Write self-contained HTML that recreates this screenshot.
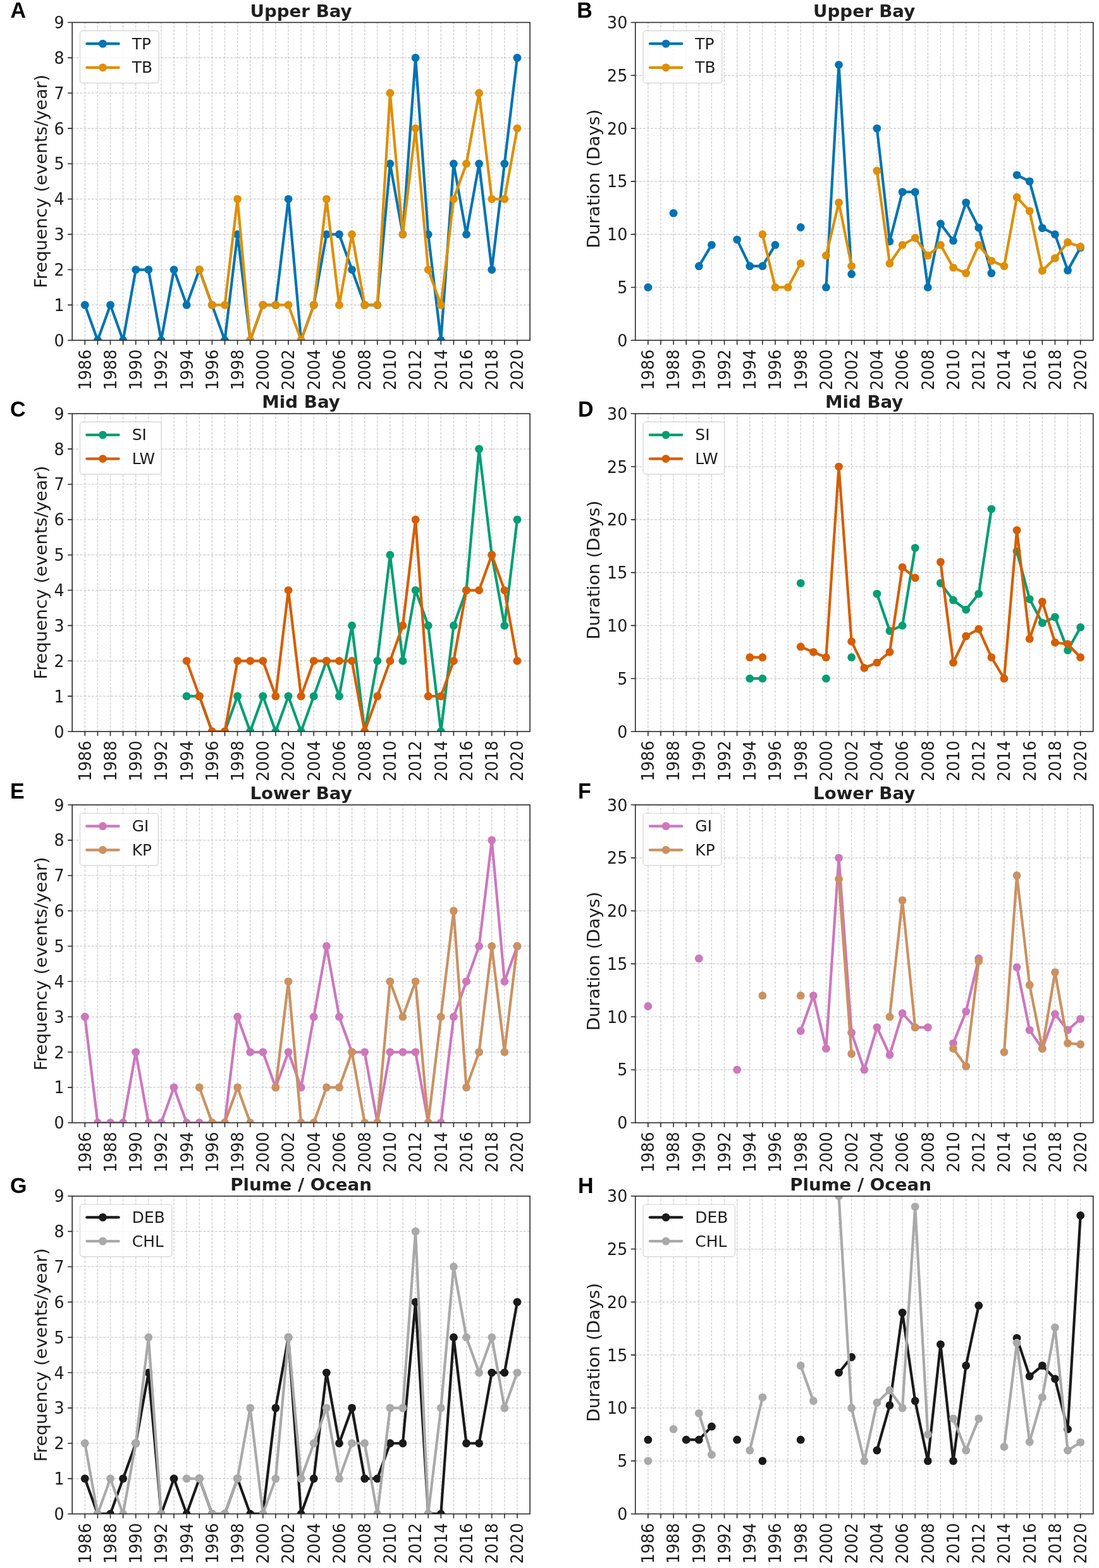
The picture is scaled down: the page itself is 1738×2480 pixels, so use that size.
<!DOCTYPE html>
<html lang="en"><head><meta charset="utf-8"><title>Event frequency and duration by region</title>
<style>html,body{margin:0;padding:0;background:#fff}svg{display:block}text{font-family:'DejaVu Sans','Liberation Sans',sans-serif}.tk{font-size:25.3px;fill:#1c1c1c}.yt{text-anchor:end}.xt{text-anchor:end}.ti{font-size:27.7px;font-weight:bold;fill:#1f1f1f;text-anchor:middle}.yl{font-size:27.7px;fill:#1c1c1c;text-anchor:middle}.lg{font-size:24.9px;fill:#1c1c1c}.pl{font-family:'Liberation Sans','DejaVu Sans',sans-serif;font-size:34px;font-weight:bold;fill:#000}.g{stroke:#cacaca;stroke-width:1.2;stroke-dasharray:3.9 2.2;fill:none}.sp{stroke:#2a2a2a;stroke-width:1.6;fill:none;stroke-linecap:square}.t{stroke:#2a2a2a;stroke-width:1.6;fill:none;stroke-linecap:round}.l{fill:none;stroke-width:4.2;stroke-linejoin:round;stroke-linecap:round}</style></head><body>
<svg width="1738" height="2480" viewBox="0 0 1738 2480">
<rect width="1738" height="2480" fill="#fff"/>
<defs>
<clipPath id="c00"><rect x="114.2" y="35.5" width="723.86" height="502.75"/></clipPath>
<clipPath id="c01"><rect x="1004.74" y="35.5" width="724.04" height="502.75"/></clipPath>
<clipPath id="c10"><rect x="114.2" y="654.27" width="723.86" height="502.73"/></clipPath>
<clipPath id="c11"><rect x="1004.74" y="654.27" width="724.04" height="502.73"/></clipPath>
<clipPath id="c20"><rect x="114.2" y="1273.04" width="723.86" height="502.71"/></clipPath>
<clipPath id="c21"><rect x="1004.74" y="1273.04" width="724.04" height="502.71"/></clipPath>
<clipPath id="c30"><rect x="114.2" y="1891.8" width="723.86" height="502.65"/></clipPath>
<clipPath id="c31"><rect x="1004.74" y="1891.8" width="724.04" height="502.65"/></clipPath>
</defs>
<g id="panel-A">
<path class="g" d="M134.31 538.25V35.5M154.41 538.25V35.5M174.52 538.25V35.5M194.63 538.25V35.5M214.74 538.25V35.5M234.84 538.25V35.5M254.95 538.25V35.5M275.06 538.25V35.5M295.16 538.25V35.5M315.27 538.25V35.5M335.38 538.25V35.5M355.49 538.25V35.5M375.59 538.25V35.5M395.7 538.25V35.5M415.81 538.25V35.5M435.92 538.25V35.5M456.02 538.25V35.5M476.13 538.25V35.5M496.24 538.25V35.5M516.34 538.25V35.5M536.45 538.25V35.5M556.56 538.25V35.5M576.67 538.25V35.5M596.77 538.25V35.5M616.88 538.25V35.5M636.99 538.25V35.5M657.1 538.25V35.5M677.2 538.25V35.5M697.31 538.25V35.5M717.42 538.25V35.5M737.52 538.25V35.5M757.63 538.25V35.5M777.74 538.25V35.5M797.85 538.25V35.5M817.95 538.25V35.5M114.2 482.39H838.06M114.2 426.53H838.06M114.2 370.67H838.06M114.2 314.81H838.06M114.2 258.94H838.06M114.2 203.08H838.06M114.2 147.22H838.06M114.2 91.36H838.06"/>
<g clip-path="url(#c00)">
<g stroke="#0173b2" fill="#0173b2">
<path class="l" d="M134.31 482.39L154.41 538.25L174.52 482.39L194.63 538.25L214.74 426.53L234.84 426.53L254.95 538.25L275.06 426.53L295.16 482.39L315.27 426.53L335.38 482.39L355.49 538.25L375.59 370.67L395.7 538.25L415.81 482.39L435.92 482.39L456.02 314.81L476.13 538.25L496.24 482.39L516.34 370.67L536.45 370.67L556.56 426.53L576.67 482.39L596.77 482.39L616.88 258.94L636.99 370.67L657.1 91.36L677.2 370.67L697.31 538.25L717.42 258.94L737.52 370.67L757.63 258.94L777.74 426.53L797.85 258.94L817.95 91.36"/>
<g stroke="none"><circle cx="134.31" cy="482.39" r="6.4"/><circle cx="154.41" cy="538.25" r="6.4"/><circle cx="174.52" cy="482.39" r="6.4"/><circle cx="194.63" cy="538.25" r="6.4"/><circle cx="214.74" cy="426.53" r="6.4"/><circle cx="234.84" cy="426.53" r="6.4"/><circle cx="254.95" cy="538.25" r="6.4"/><circle cx="275.06" cy="426.53" r="6.4"/><circle cx="295.16" cy="482.39" r="6.4"/><circle cx="315.27" cy="426.53" r="6.4"/><circle cx="335.38" cy="482.39" r="6.4"/><circle cx="355.49" cy="538.25" r="6.4"/><circle cx="375.59" cy="370.67" r="6.4"/><circle cx="395.7" cy="538.25" r="6.4"/><circle cx="415.81" cy="482.39" r="6.4"/><circle cx="435.92" cy="482.39" r="6.4"/><circle cx="456.02" cy="314.81" r="6.4"/><circle cx="476.13" cy="538.25" r="6.4"/><circle cx="496.24" cy="482.39" r="6.4"/><circle cx="516.34" cy="370.67" r="6.4"/><circle cx="536.45" cy="370.67" r="6.4"/><circle cx="556.56" cy="426.53" r="6.4"/><circle cx="576.67" cy="482.39" r="6.4"/><circle cx="596.77" cy="482.39" r="6.4"/><circle cx="616.88" cy="258.94" r="6.4"/><circle cx="636.99" cy="370.67" r="6.4"/><circle cx="657.1" cy="91.36" r="6.4"/><circle cx="677.2" cy="370.67" r="6.4"/><circle cx="697.31" cy="538.25" r="6.4"/><circle cx="717.42" cy="258.94" r="6.4"/><circle cx="737.52" cy="370.67" r="6.4"/><circle cx="757.63" cy="258.94" r="6.4"/><circle cx="777.74" cy="426.53" r="6.4"/><circle cx="797.85" cy="258.94" r="6.4"/><circle cx="817.95" cy="91.36" r="6.4"/></g>
</g>
<g stroke="#de8f05" fill="#de8f05">
<path class="l" d="M315.27 426.53L335.38 482.39L355.49 482.39L375.59 314.81L395.7 538.25L415.81 482.39L435.92 482.39L456.02 482.39L476.13 538.25L496.24 482.39L516.34 314.81L536.45 482.39L556.56 370.67L576.67 482.39L596.77 482.39L616.88 147.22L636.99 370.67L657.1 203.08L677.2 426.53L697.31 482.39L717.42 314.81L737.52 258.94L757.63 147.22L777.74 314.81L797.85 314.81L817.95 203.08"/>
<g stroke="none"><circle cx="315.27" cy="426.53" r="6.4"/><circle cx="335.38" cy="482.39" r="6.4"/><circle cx="355.49" cy="482.39" r="6.4"/><circle cx="375.59" cy="314.81" r="6.4"/><circle cx="395.7" cy="538.25" r="6.4"/><circle cx="415.81" cy="482.39" r="6.4"/><circle cx="435.92" cy="482.39" r="6.4"/><circle cx="456.02" cy="482.39" r="6.4"/><circle cx="476.13" cy="538.25" r="6.4"/><circle cx="496.24" cy="482.39" r="6.4"/><circle cx="516.34" cy="314.81" r="6.4"/><circle cx="536.45" cy="482.39" r="6.4"/><circle cx="556.56" cy="370.67" r="6.4"/><circle cx="576.67" cy="482.39" r="6.4"/><circle cx="596.77" cy="482.39" r="6.4"/><circle cx="616.88" cy="147.22" r="6.4"/><circle cx="636.99" cy="370.67" r="6.4"/><circle cx="657.1" cy="203.08" r="6.4"/><circle cx="677.2" cy="426.53" r="6.4"/><circle cx="697.31" cy="482.39" r="6.4"/><circle cx="717.42" cy="314.81" r="6.4"/><circle cx="737.52" cy="258.94" r="6.4"/><circle cx="757.63" cy="147.22" r="6.4"/><circle cx="777.74" cy="314.81" r="6.4"/><circle cx="797.85" cy="314.81" r="6.4"/><circle cx="817.95" cy="203.08" r="6.4"/></g>
</g>
</g>
<path class="t" d="M134.31 538.25v6.4M154.41 538.25v6.4M174.52 538.25v6.4M194.63 538.25v6.4M214.74 538.25v6.4M234.84 538.25v6.4M254.95 538.25v6.4M275.06 538.25v6.4M295.16 538.25v6.4M315.27 538.25v6.4M335.38 538.25v6.4M355.49 538.25v6.4M375.59 538.25v6.4M395.7 538.25v6.4M415.81 538.25v6.4M435.92 538.25v6.4M456.02 538.25v6.4M476.13 538.25v6.4M496.24 538.25v6.4M516.34 538.25v6.4M536.45 538.25v6.4M556.56 538.25v6.4M576.67 538.25v6.4M596.77 538.25v6.4M616.88 538.25v6.4M636.99 538.25v6.4M657.1 538.25v6.4M677.2 538.25v6.4M697.31 538.25v6.4M717.42 538.25v6.4M737.52 538.25v6.4M757.63 538.25v6.4M777.74 538.25v6.4M797.85 538.25v6.4M817.95 538.25v6.4M114.2 538.25h-6.4M114.2 482.39h-6.4M114.2 426.53h-6.4M114.2 370.67h-6.4M114.2 314.81h-6.4M114.2 258.94h-6.4M114.2 203.08h-6.4M114.2 147.22h-6.4M114.2 91.36h-6.4M114.2 35.5h-6.4"/>
<rect class="sp" x="114.2" y="35.5" width="723.86" height="502.75"/>
<text class="tk yt" transform="translate(101.7 547.75) scale(1 1.02)">0</text>
<text class="tk yt" transform="translate(101.7 491.89) scale(1 1.02)">1</text>
<text class="tk yt" transform="translate(101.7 436.03) scale(1 1.02)">2</text>
<text class="tk yt" transform="translate(101.7 380.17) scale(1 1.02)">3</text>
<text class="tk yt" transform="translate(101.7 324.31) scale(1 1.02)">4</text>
<text class="tk yt" transform="translate(101.7 268.44) scale(1 1.02)">5</text>
<text class="tk yt" transform="translate(101.7 212.58) scale(1 1.02)">6</text>
<text class="tk yt" transform="translate(101.7 156.72) scale(1 1.02)">7</text>
<text class="tk yt" transform="translate(101.7 100.86) scale(1 1.02)">8</text>
<text class="tk yt" transform="translate(101.7 45) scale(1 1.02)">9</text>
<text class="tk xt" transform="translate(143.66 552.75) rotate(-90) scale(1 1.02)">1986</text>
<text class="tk xt" transform="translate(183.87 552.75) rotate(-90) scale(1 1.02)">1988</text>
<text class="tk xt" transform="translate(224.09 552.75) rotate(-90) scale(1 1.02)">1990</text>
<text class="tk xt" transform="translate(264.3 552.75) rotate(-90) scale(1 1.02)">1992</text>
<text class="tk xt" transform="translate(304.51 552.75) rotate(-90) scale(1 1.02)">1994</text>
<text class="tk xt" transform="translate(344.73 552.75) rotate(-90) scale(1 1.02)">1996</text>
<text class="tk xt" transform="translate(384.94 552.75) rotate(-90) scale(1 1.02)">1998</text>
<text class="tk xt" transform="translate(425.16 552.75) rotate(-90) scale(1 1.02)">2000</text>
<text class="tk xt" transform="translate(465.37 552.75) rotate(-90) scale(1 1.02)">2002</text>
<text class="tk xt" transform="translate(505.59 552.75) rotate(-90) scale(1 1.02)">2004</text>
<text class="tk xt" transform="translate(545.8 552.75) rotate(-90) scale(1 1.02)">2006</text>
<text class="tk xt" transform="translate(586.02 552.75) rotate(-90) scale(1 1.02)">2008</text>
<text class="tk xt" transform="translate(626.23 552.75) rotate(-90) scale(1 1.02)">2010</text>
<text class="tk xt" transform="translate(666.45 552.75) rotate(-90) scale(1 1.02)">2012</text>
<text class="tk xt" transform="translate(706.66 552.75) rotate(-90) scale(1 1.02)">2014</text>
<text class="tk xt" transform="translate(746.87 552.75) rotate(-90) scale(1 1.02)">2016</text>
<text class="tk xt" transform="translate(787.09 552.75) rotate(-90) scale(1 1.02)">2018</text>
<text class="tk xt" transform="translate(827.3 552.75) rotate(-90) scale(1 1.02)">2020</text>
<text class="yl" transform="translate(74.2 286.88) rotate(-90) scale(1 0.985)">Frequency (events/year)</text>
<text class="ti" transform="translate(476.03 26.6) scale(1 0.975)">Upper Bay</text>
<rect x="126.5" y="48.7" width="124.8" height="82.6" rx="4.5" fill="#fff" fill-opacity="0.8" stroke="#d2d2d2" stroke-width="1.2"/>
<path class="l" stroke="#0173b2" d="M137.3 69.1h50.4"/>
<circle cx="162.5" cy="69.1" r="6.4" fill="#0173b2"/>
<text class="lg" transform="translate(208.8 77.6) scale(1 1)">TP</text>
<path class="l" stroke="#de8f05" d="M137.3 106.8h50.4"/>
<circle cx="162.5" cy="106.8" r="6.4" fill="#de8f05"/>
<text class="lg" transform="translate(208.8 115.3) scale(1 1)">TB</text>
<text class="pl" transform="translate(16.45 27.8) scale(1 1.03)">A</text>
</g>
<g id="panel-B">
<path class="g" d="M1024.85 538.25V35.5M1044.96 538.25V35.5M1065.08 538.25V35.5M1085.19 538.25V35.5M1105.3 538.25V35.5M1125.41 538.25V35.5M1145.53 538.25V35.5M1165.64 538.25V35.5M1185.75 538.25V35.5M1205.86 538.25V35.5M1225.97 538.25V35.5M1246.09 538.25V35.5M1266.2 538.25V35.5M1286.31 538.25V35.5M1306.42 538.25V35.5M1326.54 538.25V35.5M1346.65 538.25V35.5M1366.76 538.25V35.5M1386.87 538.25V35.5M1406.98 538.25V35.5M1427.1 538.25V35.5M1447.21 538.25V35.5M1467.32 538.25V35.5M1487.43 538.25V35.5M1507.55 538.25V35.5M1527.66 538.25V35.5M1547.77 538.25V35.5M1567.88 538.25V35.5M1587.99 538.25V35.5M1608.11 538.25V35.5M1628.22 538.25V35.5M1648.33 538.25V35.5M1668.44 538.25V35.5M1688.56 538.25V35.5M1708.67 538.25V35.5M1004.74 454.46H1728.78M1004.74 370.67H1728.78M1004.74 286.88H1728.78M1004.74 203.08H1728.78M1004.74 119.29H1728.78"/>
<g clip-path="url(#c01)">
<g stroke="#0173b2" fill="#0173b2">
<path class="l" d="M1105.3 420.94L1125.41 387.43M1165.64 379.05L1185.75 420.94L1205.86 420.94L1225.97 387.43M1306.42 454.46L1326.54 102.53L1346.65 433.51M1386.87 203.08L1406.98 381.84L1427.1 303.63L1447.21 303.63L1467.32 454.46L1487.43 353.91L1507.55 380.72L1527.66 320.39L1547.77 360.19L1567.88 432.12M1608.11 276.82L1628.22 286.88L1648.33 360.61L1668.44 370.67L1688.56 427.64L1708.67 391.61"/>
<g stroke="none"><circle cx="1024.85" cy="454.46" r="6.4"/><circle cx="1065.08" cy="337.15" r="6.4"/><circle cx="1105.3" cy="420.94" r="6.4"/><circle cx="1125.41" cy="387.43" r="6.4"/><circle cx="1165.64" cy="379.05" r="6.4"/><circle cx="1185.75" cy="420.94" r="6.4"/><circle cx="1205.86" cy="420.94" r="6.4"/><circle cx="1225.97" cy="387.43" r="6.4"/><circle cx="1266.2" cy="359.49" r="6.4"/><circle cx="1306.42" cy="454.46" r="6.4"/><circle cx="1326.54" cy="102.53" r="6.4"/><circle cx="1346.65" cy="433.51" r="6.4"/><circle cx="1386.87" cy="203.08" r="6.4"/><circle cx="1406.98" cy="381.84" r="6.4"/><circle cx="1427.1" cy="303.63" r="6.4"/><circle cx="1447.21" cy="303.63" r="6.4"/><circle cx="1467.32" cy="454.46" r="6.4"/><circle cx="1487.43" cy="353.91" r="6.4"/><circle cx="1507.55" cy="380.72" r="6.4"/><circle cx="1527.66" cy="320.39" r="6.4"/><circle cx="1547.77" cy="360.19" r="6.4"/><circle cx="1567.88" cy="432.12" r="6.4"/><circle cx="1608.11" cy="276.82" r="6.4"/><circle cx="1628.22" cy="286.88" r="6.4"/><circle cx="1648.33" cy="360.61" r="6.4"/><circle cx="1668.44" cy="370.67" r="6.4"/><circle cx="1688.56" cy="427.64" r="6.4"/><circle cx="1708.67" cy="391.61" r="6.4"/></g>
</g>
<g stroke="#de8f05" fill="#de8f05">
<path class="l" d="M1205.86 370.67L1225.97 454.46L1246.09 454.46L1266.2 416.75M1306.42 404.18L1326.54 320.39L1346.65 420.94M1386.87 270.12L1406.98 416.75L1427.1 387.43L1447.21 376.25L1467.32 404.18L1487.43 387.43L1507.55 423.34L1527.66 432.12L1547.77 387.43L1567.88 412.56L1587.99 420.94L1608.11 312.01L1628.22 333.8L1648.33 428.13L1668.44 408.37L1688.56 383.24L1708.67 390.22"/>
<g stroke="none"><circle cx="1205.86" cy="370.67" r="6.4"/><circle cx="1225.97" cy="454.46" r="6.4"/><circle cx="1246.09" cy="454.46" r="6.4"/><circle cx="1266.2" cy="416.75" r="6.4"/><circle cx="1306.42" cy="404.18" r="6.4"/><circle cx="1326.54" cy="320.39" r="6.4"/><circle cx="1346.65" cy="420.94" r="6.4"/><circle cx="1386.87" cy="270.12" r="6.4"/><circle cx="1406.98" cy="416.75" r="6.4"/><circle cx="1427.1" cy="387.43" r="6.4"/><circle cx="1447.21" cy="376.25" r="6.4"/><circle cx="1467.32" cy="404.18" r="6.4"/><circle cx="1487.43" cy="387.43" r="6.4"/><circle cx="1507.55" cy="423.34" r="6.4"/><circle cx="1527.66" cy="432.12" r="6.4"/><circle cx="1547.77" cy="387.43" r="6.4"/><circle cx="1567.88" cy="412.56" r="6.4"/><circle cx="1587.99" cy="420.94" r="6.4"/><circle cx="1608.11" cy="312.01" r="6.4"/><circle cx="1628.22" cy="333.8" r="6.4"/><circle cx="1648.33" cy="428.13" r="6.4"/><circle cx="1668.44" cy="408.37" r="6.4"/><circle cx="1688.56" cy="383.24" r="6.4"/><circle cx="1708.67" cy="390.22" r="6.4"/></g>
</g>
</g>
<path class="t" d="M1024.85 538.25v6.4M1044.96 538.25v6.4M1065.08 538.25v6.4M1085.19 538.25v6.4M1105.3 538.25v6.4M1125.41 538.25v6.4M1145.53 538.25v6.4M1165.64 538.25v6.4M1185.75 538.25v6.4M1205.86 538.25v6.4M1225.97 538.25v6.4M1246.09 538.25v6.4M1266.2 538.25v6.4M1286.31 538.25v6.4M1306.42 538.25v6.4M1326.54 538.25v6.4M1346.65 538.25v6.4M1366.76 538.25v6.4M1386.87 538.25v6.4M1406.98 538.25v6.4M1427.1 538.25v6.4M1447.21 538.25v6.4M1467.32 538.25v6.4M1487.43 538.25v6.4M1507.55 538.25v6.4M1527.66 538.25v6.4M1547.77 538.25v6.4M1567.88 538.25v6.4M1587.99 538.25v6.4M1608.11 538.25v6.4M1628.22 538.25v6.4M1648.33 538.25v6.4M1668.44 538.25v6.4M1688.56 538.25v6.4M1708.67 538.25v6.4M1004.74 538.25h-6.4M1004.74 454.46h-6.4M1004.74 370.67h-6.4M1004.74 286.88h-6.4M1004.74 203.08h-6.4M1004.74 119.29h-6.4M1004.74 35.5h-6.4"/>
<rect class="sp" x="1004.74" y="35.5" width="724.04" height="502.75"/>
<text class="tk yt" transform="translate(992.24 547.75) scale(1 1.02)">0</text>
<text class="tk yt" transform="translate(992.24 463.96) scale(1 1.02)">5</text>
<text class="tk yt" transform="translate(992.24 380.17) scale(1 1.02)">10</text>
<text class="tk yt" transform="translate(992.24 296.38) scale(1 1.02)">15</text>
<text class="tk yt" transform="translate(992.24 212.58) scale(1 1.02)">20</text>
<text class="tk yt" transform="translate(992.24 128.79) scale(1 1.02)">25</text>
<text class="tk yt" transform="translate(992.24 45) scale(1 1.02)">30</text>
<text class="tk xt" transform="translate(1034.2 552.75) rotate(-90) scale(1 1.02)">1986</text>
<text class="tk xt" transform="translate(1074.43 552.75) rotate(-90) scale(1 1.02)">1988</text>
<text class="tk xt" transform="translate(1114.65 552.75) rotate(-90) scale(1 1.02)">1990</text>
<text class="tk xt" transform="translate(1154.88 552.75) rotate(-90) scale(1 1.02)">1992</text>
<text class="tk xt" transform="translate(1195.1 552.75) rotate(-90) scale(1 1.02)">1994</text>
<text class="tk xt" transform="translate(1235.32 552.75) rotate(-90) scale(1 1.02)">1996</text>
<text class="tk xt" transform="translate(1275.55 552.75) rotate(-90) scale(1 1.02)">1998</text>
<text class="tk xt" transform="translate(1315.77 552.75) rotate(-90) scale(1 1.02)">2000</text>
<text class="tk xt" transform="translate(1356 552.75) rotate(-90) scale(1 1.02)">2002</text>
<text class="tk xt" transform="translate(1396.22 552.75) rotate(-90) scale(1 1.02)">2004</text>
<text class="tk xt" transform="translate(1436.45 552.75) rotate(-90) scale(1 1.02)">2006</text>
<text class="tk xt" transform="translate(1476.67 552.75) rotate(-90) scale(1 1.02)">2008</text>
<text class="tk xt" transform="translate(1516.9 552.75) rotate(-90) scale(1 1.02)">2010</text>
<text class="tk xt" transform="translate(1557.12 552.75) rotate(-90) scale(1 1.02)">2012</text>
<text class="tk xt" transform="translate(1597.34 552.75) rotate(-90) scale(1 1.02)">2014</text>
<text class="tk xt" transform="translate(1637.57 552.75) rotate(-90) scale(1 1.02)">2016</text>
<text class="tk xt" transform="translate(1677.79 552.75) rotate(-90) scale(1 1.02)">2018</text>
<text class="tk xt" transform="translate(1718.02 552.75) rotate(-90) scale(1 1.02)">2020</text>
<text class="yl" transform="translate(948.24 282.88) rotate(-90) scale(1 0.985)">Duration (Days)</text>
<text class="ti" transform="translate(1366.66 26.6) scale(1 0.975)">Upper Bay</text>
<rect x="1017.04" y="48.7" width="124.8" height="82.6" rx="4.5" fill="#fff" fill-opacity="0.8" stroke="#d2d2d2" stroke-width="1.2"/>
<path class="l" stroke="#0173b2" d="M1027.84 69.1h50.4"/>
<circle cx="1053.04" cy="69.1" r="6.4" fill="#0173b2"/>
<text class="lg" transform="translate(1099.34 77.6) scale(1 1)">TP</text>
<path class="l" stroke="#de8f05" d="M1027.84 106.8h50.4"/>
<circle cx="1053.04" cy="106.8" r="6.4" fill="#de8f05"/>
<text class="lg" transform="translate(1099.34 115.3) scale(1 1)">TB</text>
<text class="pl" transform="translate(912.2 27.9) scale(1 1.03)">B</text>
</g>
<g id="panel-C">
<path class="g" d="M134.31 1157V654.27M154.41 1157V654.27M174.52 1157V654.27M194.63 1157V654.27M214.74 1157V654.27M234.84 1157V654.27M254.95 1157V654.27M275.06 1157V654.27M295.16 1157V654.27M315.27 1157V654.27M335.38 1157V654.27M355.49 1157V654.27M375.59 1157V654.27M395.7 1157V654.27M415.81 1157V654.27M435.92 1157V654.27M456.02 1157V654.27M476.13 1157V654.27M496.24 1157V654.27M516.34 1157V654.27M536.45 1157V654.27M556.56 1157V654.27M576.67 1157V654.27M596.77 1157V654.27M616.88 1157V654.27M636.99 1157V654.27M657.1 1157V654.27M677.2 1157V654.27M697.31 1157V654.27M717.42 1157V654.27M737.52 1157V654.27M757.63 1157V654.27M777.74 1157V654.27M797.85 1157V654.27M817.95 1157V654.27M114.2 1101.14H838.06M114.2 1045.28H838.06M114.2 989.42H838.06M114.2 933.56H838.06M114.2 877.71H838.06M114.2 821.85H838.06M114.2 765.99H838.06M114.2 710.13H838.06"/>
<g clip-path="url(#c10)">
<g stroke="#029e73" fill="#029e73">
<path class="l" d="M295.16 1101.14L315.27 1101.14L335.38 1157L355.49 1157L375.59 1101.14L395.7 1157L415.81 1101.14L435.92 1157L456.02 1101.14L476.13 1157L496.24 1101.14L516.34 1045.28L536.45 1101.14L556.56 989.42L576.67 1157L596.77 1045.28L616.88 877.71L636.99 1045.28L657.1 933.56L677.2 989.42L697.31 1157L717.42 989.42L737.52 933.56L757.63 710.13L777.74 877.71L797.85 989.42L817.95 821.85"/>
<g stroke="none"><circle cx="295.16" cy="1101.14" r="6.4"/><circle cx="315.27" cy="1101.14" r="6.4"/><circle cx="335.38" cy="1157" r="6.4"/><circle cx="355.49" cy="1157" r="6.4"/><circle cx="375.59" cy="1101.14" r="6.4"/><circle cx="395.7" cy="1157" r="6.4"/><circle cx="415.81" cy="1101.14" r="6.4"/><circle cx="435.92" cy="1157" r="6.4"/><circle cx="456.02" cy="1101.14" r="6.4"/><circle cx="476.13" cy="1157" r="6.4"/><circle cx="496.24" cy="1101.14" r="6.4"/><circle cx="516.34" cy="1045.28" r="6.4"/><circle cx="536.45" cy="1101.14" r="6.4"/><circle cx="556.56" cy="989.42" r="6.4"/><circle cx="576.67" cy="1157" r="6.4"/><circle cx="596.77" cy="1045.28" r="6.4"/><circle cx="616.88" cy="877.71" r="6.4"/><circle cx="636.99" cy="1045.28" r="6.4"/><circle cx="657.1" cy="933.56" r="6.4"/><circle cx="677.2" cy="989.42" r="6.4"/><circle cx="697.31" cy="1157" r="6.4"/><circle cx="717.42" cy="989.42" r="6.4"/><circle cx="737.52" cy="933.56" r="6.4"/><circle cx="757.63" cy="710.13" r="6.4"/><circle cx="777.74" cy="877.71" r="6.4"/><circle cx="797.85" cy="989.42" r="6.4"/><circle cx="817.95" cy="821.85" r="6.4"/></g>
</g>
<g stroke="#d55e00" fill="#d55e00">
<path class="l" d="M295.16 1045.28L315.27 1101.14L335.38 1157L355.49 1157L375.59 1045.28L395.7 1045.28L415.81 1045.28L435.92 1101.14L456.02 933.56L476.13 1101.14L496.24 1045.28L516.34 1045.28L536.45 1045.28L556.56 1045.28L576.67 1157L596.77 1101.14L616.88 1045.28L636.99 989.42L657.1 821.85L677.2 1101.14L697.31 1101.14L717.42 1045.28L737.52 933.56L757.63 933.56L777.74 877.71L797.85 933.56L817.95 1045.28"/>
<g stroke="none"><circle cx="295.16" cy="1045.28" r="6.4"/><circle cx="315.27" cy="1101.14" r="6.4"/><circle cx="335.38" cy="1157" r="6.4"/><circle cx="355.49" cy="1157" r="6.4"/><circle cx="375.59" cy="1045.28" r="6.4"/><circle cx="395.7" cy="1045.28" r="6.4"/><circle cx="415.81" cy="1045.28" r="6.4"/><circle cx="435.92" cy="1101.14" r="6.4"/><circle cx="456.02" cy="933.56" r="6.4"/><circle cx="476.13" cy="1101.14" r="6.4"/><circle cx="496.24" cy="1045.28" r="6.4"/><circle cx="516.34" cy="1045.28" r="6.4"/><circle cx="536.45" cy="1045.28" r="6.4"/><circle cx="556.56" cy="1045.28" r="6.4"/><circle cx="576.67" cy="1157" r="6.4"/><circle cx="596.77" cy="1101.14" r="6.4"/><circle cx="616.88" cy="1045.28" r="6.4"/><circle cx="636.99" cy="989.42" r="6.4"/><circle cx="657.1" cy="821.85" r="6.4"/><circle cx="677.2" cy="1101.14" r="6.4"/><circle cx="697.31" cy="1101.14" r="6.4"/><circle cx="717.42" cy="1045.28" r="6.4"/><circle cx="737.52" cy="933.56" r="6.4"/><circle cx="757.63" cy="933.56" r="6.4"/><circle cx="777.74" cy="877.71" r="6.4"/><circle cx="797.85" cy="933.56" r="6.4"/><circle cx="817.95" cy="1045.28" r="6.4"/></g>
</g>
</g>
<path class="t" d="M134.31 1157v6.4M154.41 1157v6.4M174.52 1157v6.4M194.63 1157v6.4M214.74 1157v6.4M234.84 1157v6.4M254.95 1157v6.4M275.06 1157v6.4M295.16 1157v6.4M315.27 1157v6.4M335.38 1157v6.4M355.49 1157v6.4M375.59 1157v6.4M395.7 1157v6.4M415.81 1157v6.4M435.92 1157v6.4M456.02 1157v6.4M476.13 1157v6.4M496.24 1157v6.4M516.34 1157v6.4M536.45 1157v6.4M556.56 1157v6.4M576.67 1157v6.4M596.77 1157v6.4M616.88 1157v6.4M636.99 1157v6.4M657.1 1157v6.4M677.2 1157v6.4M697.31 1157v6.4M717.42 1157v6.4M737.52 1157v6.4M757.63 1157v6.4M777.74 1157v6.4M797.85 1157v6.4M817.95 1157v6.4M114.2 1157h-6.4M114.2 1101.14h-6.4M114.2 1045.28h-6.4M114.2 989.42h-6.4M114.2 933.56h-6.4M114.2 877.71h-6.4M114.2 821.85h-6.4M114.2 765.99h-6.4M114.2 710.13h-6.4M114.2 654.27h-6.4"/>
<rect class="sp" x="114.2" y="654.27" width="723.86" height="502.73"/>
<text class="tk yt" transform="translate(101.7 1166.5) scale(1 1.02)">0</text>
<text class="tk yt" transform="translate(101.7 1110.64) scale(1 1.02)">1</text>
<text class="tk yt" transform="translate(101.7 1054.78) scale(1 1.02)">2</text>
<text class="tk yt" transform="translate(101.7 998.92) scale(1 1.02)">3</text>
<text class="tk yt" transform="translate(101.7 943.06) scale(1 1.02)">4</text>
<text class="tk yt" transform="translate(101.7 887.21) scale(1 1.02)">5</text>
<text class="tk yt" transform="translate(101.7 831.35) scale(1 1.02)">6</text>
<text class="tk yt" transform="translate(101.7 775.49) scale(1 1.02)">7</text>
<text class="tk yt" transform="translate(101.7 719.63) scale(1 1.02)">8</text>
<text class="tk yt" transform="translate(101.7 663.77) scale(1 1.02)">9</text>
<text class="tk xt" transform="translate(143.66 1171.5) rotate(-90) scale(1 1.02)">1986</text>
<text class="tk xt" transform="translate(183.87 1171.5) rotate(-90) scale(1 1.02)">1988</text>
<text class="tk xt" transform="translate(224.09 1171.5) rotate(-90) scale(1 1.02)">1990</text>
<text class="tk xt" transform="translate(264.3 1171.5) rotate(-90) scale(1 1.02)">1992</text>
<text class="tk xt" transform="translate(304.51 1171.5) rotate(-90) scale(1 1.02)">1994</text>
<text class="tk xt" transform="translate(344.73 1171.5) rotate(-90) scale(1 1.02)">1996</text>
<text class="tk xt" transform="translate(384.94 1171.5) rotate(-90) scale(1 1.02)">1998</text>
<text class="tk xt" transform="translate(425.16 1171.5) rotate(-90) scale(1 1.02)">2000</text>
<text class="tk xt" transform="translate(465.37 1171.5) rotate(-90) scale(1 1.02)">2002</text>
<text class="tk xt" transform="translate(505.59 1171.5) rotate(-90) scale(1 1.02)">2004</text>
<text class="tk xt" transform="translate(545.8 1171.5) rotate(-90) scale(1 1.02)">2006</text>
<text class="tk xt" transform="translate(586.02 1171.5) rotate(-90) scale(1 1.02)">2008</text>
<text class="tk xt" transform="translate(626.23 1171.5) rotate(-90) scale(1 1.02)">2010</text>
<text class="tk xt" transform="translate(666.45 1171.5) rotate(-90) scale(1 1.02)">2012</text>
<text class="tk xt" transform="translate(706.66 1171.5) rotate(-90) scale(1 1.02)">2014</text>
<text class="tk xt" transform="translate(746.87 1171.5) rotate(-90) scale(1 1.02)">2016</text>
<text class="tk xt" transform="translate(787.09 1171.5) rotate(-90) scale(1 1.02)">2018</text>
<text class="tk xt" transform="translate(827.3 1171.5) rotate(-90) scale(1 1.02)">2020</text>
<text class="yl" transform="translate(74.2 905.63) rotate(-90) scale(1 0.985)">Frequency (events/year)</text>
<text class="ti" transform="translate(476.03 645.37) scale(1 0.975)">Mid Bay</text>
<rect x="126.5" y="667.47" width="128.8" height="82.6" rx="4.5" fill="#fff" fill-opacity="0.8" stroke="#d2d2d2" stroke-width="1.2"/>
<path class="l" stroke="#029e73" d="M137.3 687.87h50.4"/>
<circle cx="162.5" cy="687.87" r="6.4" fill="#029e73"/>
<text class="lg" transform="translate(208.8 696.37) scale(1 1)">SI</text>
<path class="l" stroke="#d55e00" d="M137.3 725.57h50.4"/>
<circle cx="162.5" cy="725.57" r="6.4" fill="#d55e00"/>
<text class="lg" transform="translate(208.8 734.07) scale(1 1)">LW</text>
<text class="pl" transform="translate(15.9 658.8) scale(1 1.03)">C</text>
</g>
<g id="panel-D">
<path class="g" d="M1024.85 1157V654.27M1044.96 1157V654.27M1065.08 1157V654.27M1085.19 1157V654.27M1105.3 1157V654.27M1125.41 1157V654.27M1145.53 1157V654.27M1165.64 1157V654.27M1185.75 1157V654.27M1205.86 1157V654.27M1225.97 1157V654.27M1246.09 1157V654.27M1266.2 1157V654.27M1286.31 1157V654.27M1306.42 1157V654.27M1326.54 1157V654.27M1346.65 1157V654.27M1366.76 1157V654.27M1386.87 1157V654.27M1406.98 1157V654.27M1427.1 1157V654.27M1447.21 1157V654.27M1467.32 1157V654.27M1487.43 1157V654.27M1507.55 1157V654.27M1527.66 1157V654.27M1547.77 1157V654.27M1567.88 1157V654.27M1587.99 1157V654.27M1608.11 1157V654.27M1628.22 1157V654.27M1648.33 1157V654.27M1668.44 1157V654.27M1688.56 1157V654.27M1708.67 1157V654.27M1004.74 1073.21H1728.78M1004.74 989.42H1728.78M1004.74 905.63H1728.78M1004.74 821.85H1728.78M1004.74 738.06H1728.78"/>
<g clip-path="url(#c11)">
<g stroke="#029e73" fill="#029e73">
<path class="l" d="M1185.75 1073.21L1205.86 1073.21M1386.87 939.15L1406.98 997.8L1427.1 989.42L1447.21 866.54M1487.43 922.39L1507.55 949.2L1527.66 964.29L1547.77 939.15L1567.88 805.09M1608.11 872.12L1628.22 947.53L1648.33 985.23L1668.44 976.02L1688.56 1028.52L1708.67 992.22"/>
<g stroke="none"><circle cx="1185.75" cy="1073.21" r="6.4"/><circle cx="1205.86" cy="1073.21" r="6.4"/><circle cx="1266.2" cy="922.39" r="6.4"/><circle cx="1306.42" cy="1073.21" r="6.4"/><circle cx="1346.65" cy="1039.7" r="6.4"/><circle cx="1386.87" cy="939.15" r="6.4"/><circle cx="1406.98" cy="997.8" r="6.4"/><circle cx="1427.1" cy="989.42" r="6.4"/><circle cx="1447.21" cy="866.54" r="6.4"/><circle cx="1487.43" cy="922.39" r="6.4"/><circle cx="1507.55" cy="949.2" r="6.4"/><circle cx="1527.66" cy="964.29" r="6.4"/><circle cx="1547.77" cy="939.15" r="6.4"/><circle cx="1567.88" cy="805.09" r="6.4"/><circle cx="1608.11" cy="872.12" r="6.4"/><circle cx="1628.22" cy="947.53" r="6.4"/><circle cx="1648.33" cy="985.23" r="6.4"/><circle cx="1668.44" cy="976.02" r="6.4"/><circle cx="1688.56" cy="1028.52" r="6.4"/><circle cx="1708.67" cy="992.22" r="6.4"/></g>
</g>
<g stroke="#d55e00" fill="#d55e00">
<path class="l" d="M1185.75 1039.7L1205.86 1039.7M1266.2 1022.94L1286.31 1031.32L1306.42 1039.7L1326.54 738.06L1346.65 1014.56L1366.76 1056.45L1386.87 1048.08L1406.98 1031.32L1427.1 897.26L1447.21 914.01M1487.43 888.88L1507.55 1048.08L1527.66 1006.18L1547.77 995L1567.88 1039.7L1587.99 1073.21L1608.11 838.6L1628.22 1010.37L1648.33 951.72L1668.44 1016.24L1688.56 1018.75L1708.67 1039.7"/>
<g stroke="none"><circle cx="1185.75" cy="1039.7" r="6.4"/><circle cx="1205.86" cy="1039.7" r="6.4"/><circle cx="1266.2" cy="1022.94" r="6.4"/><circle cx="1286.31" cy="1031.32" r="6.4"/><circle cx="1306.42" cy="1039.7" r="6.4"/><circle cx="1326.54" cy="738.06" r="6.4"/><circle cx="1346.65" cy="1014.56" r="6.4"/><circle cx="1366.76" cy="1056.45" r="6.4"/><circle cx="1386.87" cy="1048.08" r="6.4"/><circle cx="1406.98" cy="1031.32" r="6.4"/><circle cx="1427.1" cy="897.26" r="6.4"/><circle cx="1447.21" cy="914.01" r="6.4"/><circle cx="1487.43" cy="888.88" r="6.4"/><circle cx="1507.55" cy="1048.08" r="6.4"/><circle cx="1527.66" cy="1006.18" r="6.4"/><circle cx="1547.77" cy="995" r="6.4"/><circle cx="1567.88" cy="1039.7" r="6.4"/><circle cx="1587.99" cy="1073.21" r="6.4"/><circle cx="1608.11" cy="838.6" r="6.4"/><circle cx="1628.22" cy="1010.37" r="6.4"/><circle cx="1648.33" cy="951.72" r="6.4"/><circle cx="1668.44" cy="1016.24" r="6.4"/><circle cx="1688.56" cy="1018.75" r="6.4"/><circle cx="1708.67" cy="1039.7" r="6.4"/></g>
</g>
</g>
<path class="t" d="M1024.85 1157v6.4M1044.96 1157v6.4M1065.08 1157v6.4M1085.19 1157v6.4M1105.3 1157v6.4M1125.41 1157v6.4M1145.53 1157v6.4M1165.64 1157v6.4M1185.75 1157v6.4M1205.86 1157v6.4M1225.97 1157v6.4M1246.09 1157v6.4M1266.2 1157v6.4M1286.31 1157v6.4M1306.42 1157v6.4M1326.54 1157v6.4M1346.65 1157v6.4M1366.76 1157v6.4M1386.87 1157v6.4M1406.98 1157v6.4M1427.1 1157v6.4M1447.21 1157v6.4M1467.32 1157v6.4M1487.43 1157v6.4M1507.55 1157v6.4M1527.66 1157v6.4M1547.77 1157v6.4M1567.88 1157v6.4M1587.99 1157v6.4M1608.11 1157v6.4M1628.22 1157v6.4M1648.33 1157v6.4M1668.44 1157v6.4M1688.56 1157v6.4M1708.67 1157v6.4M1004.74 1157h-6.4M1004.74 1073.21h-6.4M1004.74 989.42h-6.4M1004.74 905.63h-6.4M1004.74 821.85h-6.4M1004.74 738.06h-6.4M1004.74 654.27h-6.4"/>
<rect class="sp" x="1004.74" y="654.27" width="724.04" height="502.73"/>
<text class="tk yt" transform="translate(992.24 1166.5) scale(1 1.02)">0</text>
<text class="tk yt" transform="translate(992.24 1082.71) scale(1 1.02)">5</text>
<text class="tk yt" transform="translate(992.24 998.92) scale(1 1.02)">10</text>
<text class="tk yt" transform="translate(992.24 915.13) scale(1 1.02)">15</text>
<text class="tk yt" transform="translate(992.24 831.35) scale(1 1.02)">20</text>
<text class="tk yt" transform="translate(992.24 747.56) scale(1 1.02)">25</text>
<text class="tk yt" transform="translate(992.24 663.77) scale(1 1.02)">30</text>
<text class="tk xt" transform="translate(1034.2 1171.5) rotate(-90) scale(1 1.02)">1986</text>
<text class="tk xt" transform="translate(1074.43 1171.5) rotate(-90) scale(1 1.02)">1988</text>
<text class="tk xt" transform="translate(1114.65 1171.5) rotate(-90) scale(1 1.02)">1990</text>
<text class="tk xt" transform="translate(1154.88 1171.5) rotate(-90) scale(1 1.02)">1992</text>
<text class="tk xt" transform="translate(1195.1 1171.5) rotate(-90) scale(1 1.02)">1994</text>
<text class="tk xt" transform="translate(1235.32 1171.5) rotate(-90) scale(1 1.02)">1996</text>
<text class="tk xt" transform="translate(1275.55 1171.5) rotate(-90) scale(1 1.02)">1998</text>
<text class="tk xt" transform="translate(1315.77 1171.5) rotate(-90) scale(1 1.02)">2000</text>
<text class="tk xt" transform="translate(1356 1171.5) rotate(-90) scale(1 1.02)">2002</text>
<text class="tk xt" transform="translate(1396.22 1171.5) rotate(-90) scale(1 1.02)">2004</text>
<text class="tk xt" transform="translate(1436.45 1171.5) rotate(-90) scale(1 1.02)">2006</text>
<text class="tk xt" transform="translate(1476.67 1171.5) rotate(-90) scale(1 1.02)">2008</text>
<text class="tk xt" transform="translate(1516.9 1171.5) rotate(-90) scale(1 1.02)">2010</text>
<text class="tk xt" transform="translate(1557.12 1171.5) rotate(-90) scale(1 1.02)">2012</text>
<text class="tk xt" transform="translate(1597.34 1171.5) rotate(-90) scale(1 1.02)">2014</text>
<text class="tk xt" transform="translate(1637.57 1171.5) rotate(-90) scale(1 1.02)">2016</text>
<text class="tk xt" transform="translate(1677.79 1171.5) rotate(-90) scale(1 1.02)">2018</text>
<text class="tk xt" transform="translate(1718.02 1171.5) rotate(-90) scale(1 1.02)">2020</text>
<text class="yl" transform="translate(948.24 901.63) rotate(-90) scale(1 0.985)">Duration (Days)</text>
<text class="ti" transform="translate(1366.66 645.37) scale(1 0.975)">Mid Bay</text>
<rect x="1017.04" y="667.47" width="128.8" height="82.6" rx="4.5" fill="#fff" fill-opacity="0.8" stroke="#d2d2d2" stroke-width="1.2"/>
<path class="l" stroke="#029e73" d="M1027.84 687.87h50.4"/>
<circle cx="1053.04" cy="687.87" r="6.4" fill="#029e73"/>
<text class="lg" transform="translate(1099.34 696.37) scale(1 1)">SI</text>
<path class="l" stroke="#d55e00" d="M1027.84 725.57h50.4"/>
<circle cx="1053.04" cy="725.57" r="6.4" fill="#d55e00"/>
<text class="lg" transform="translate(1099.34 734.07) scale(1 1)">LW</text>
<text class="pl" transform="translate(913.9 658.8) scale(1 1.03)">D</text>
</g>
<g id="panel-E">
<path class="g" d="M134.31 1775.75V1273.04M154.41 1775.75V1273.04M174.52 1775.75V1273.04M194.63 1775.75V1273.04M214.74 1775.75V1273.04M234.84 1775.75V1273.04M254.95 1775.75V1273.04M275.06 1775.75V1273.04M295.16 1775.75V1273.04M315.27 1775.75V1273.04M335.38 1775.75V1273.04M355.49 1775.75V1273.04M375.59 1775.75V1273.04M395.7 1775.75V1273.04M415.81 1775.75V1273.04M435.92 1775.75V1273.04M456.02 1775.75V1273.04M476.13 1775.75V1273.04M496.24 1775.75V1273.04M516.34 1775.75V1273.04M536.45 1775.75V1273.04M556.56 1775.75V1273.04M576.67 1775.75V1273.04M596.77 1775.75V1273.04M616.88 1775.75V1273.04M636.99 1775.75V1273.04M657.1 1775.75V1273.04M677.2 1775.75V1273.04M697.31 1775.75V1273.04M717.42 1775.75V1273.04M737.52 1775.75V1273.04M757.63 1775.75V1273.04M777.74 1775.75V1273.04M797.85 1775.75V1273.04M817.95 1775.75V1273.04M114.2 1719.89H838.06M114.2 1664.04H838.06M114.2 1608.18H838.06M114.2 1552.32H838.06M114.2 1496.47H838.06M114.2 1440.61H838.06M114.2 1384.75H838.06M114.2 1328.9H838.06"/>
<g clip-path="url(#c20)">
<g stroke="#cc78bc" fill="#cc78bc">
<path class="l" d="M134.31 1608.18L154.41 1775.75L174.52 1775.75L194.63 1775.75L214.74 1664.04L234.84 1775.75L254.95 1775.75L275.06 1719.89L295.16 1775.75L315.27 1775.75L335.38 1775.75L355.49 1775.75L375.59 1608.18L395.7 1664.04L415.81 1664.04L435.92 1719.89L456.02 1664.04L476.13 1719.89L496.24 1608.18L516.34 1496.47L536.45 1608.18L556.56 1664.04L576.67 1664.04L596.77 1775.75L616.88 1664.04L636.99 1664.04L657.1 1664.04L677.2 1775.75L697.31 1775.75L717.42 1608.18L737.52 1552.32L757.63 1496.47L777.74 1328.9L797.85 1552.32L817.95 1496.47"/>
<g stroke="none"><circle cx="134.31" cy="1608.18" r="6.4"/><circle cx="154.41" cy="1775.75" r="6.4"/><circle cx="174.52" cy="1775.75" r="6.4"/><circle cx="194.63" cy="1775.75" r="6.4"/><circle cx="214.74" cy="1664.04" r="6.4"/><circle cx="234.84" cy="1775.75" r="6.4"/><circle cx="254.95" cy="1775.75" r="6.4"/><circle cx="275.06" cy="1719.89" r="6.4"/><circle cx="295.16" cy="1775.75" r="6.4"/><circle cx="315.27" cy="1775.75" r="6.4"/><circle cx="335.38" cy="1775.75" r="6.4"/><circle cx="355.49" cy="1775.75" r="6.4"/><circle cx="375.59" cy="1608.18" r="6.4"/><circle cx="395.7" cy="1664.04" r="6.4"/><circle cx="415.81" cy="1664.04" r="6.4"/><circle cx="435.92" cy="1719.89" r="6.4"/><circle cx="456.02" cy="1664.04" r="6.4"/><circle cx="476.13" cy="1719.89" r="6.4"/><circle cx="496.24" cy="1608.18" r="6.4"/><circle cx="516.34" cy="1496.47" r="6.4"/><circle cx="536.45" cy="1608.18" r="6.4"/><circle cx="556.56" cy="1664.04" r="6.4"/><circle cx="576.67" cy="1664.04" r="6.4"/><circle cx="596.77" cy="1775.75" r="6.4"/><circle cx="616.88" cy="1664.04" r="6.4"/><circle cx="636.99" cy="1664.04" r="6.4"/><circle cx="657.1" cy="1664.04" r="6.4"/><circle cx="677.2" cy="1775.75" r="6.4"/><circle cx="697.31" cy="1775.75" r="6.4"/><circle cx="717.42" cy="1608.18" r="6.4"/><circle cx="737.52" cy="1552.32" r="6.4"/><circle cx="757.63" cy="1496.47" r="6.4"/><circle cx="777.74" cy="1328.9" r="6.4"/><circle cx="797.85" cy="1552.32" r="6.4"/><circle cx="817.95" cy="1496.47" r="6.4"/></g>
</g>
<g stroke="#ca9161" fill="#ca9161">
<path class="l" d="M315.27 1719.89L335.38 1775.75L355.49 1775.75L375.59 1719.89L395.7 1775.75M435.92 1719.89L456.02 1552.32L476.13 1775.75L496.24 1775.75L516.34 1719.89L536.45 1719.89L556.56 1664.04L576.67 1775.75L596.77 1775.75L616.88 1552.32L636.99 1608.18L657.1 1552.32L677.2 1775.75L697.31 1608.18L717.42 1440.61L737.52 1719.89L757.63 1664.04L777.74 1496.47L797.85 1664.04L817.95 1496.47"/>
<g stroke="none"><circle cx="315.27" cy="1719.89" r="6.4"/><circle cx="335.38" cy="1775.75" r="6.4"/><circle cx="355.49" cy="1775.75" r="6.4"/><circle cx="375.59" cy="1719.89" r="6.4"/><circle cx="395.7" cy="1775.75" r="6.4"/><circle cx="435.92" cy="1719.89" r="6.4"/><circle cx="456.02" cy="1552.32" r="6.4"/><circle cx="476.13" cy="1775.75" r="6.4"/><circle cx="496.24" cy="1775.75" r="6.4"/><circle cx="516.34" cy="1719.89" r="6.4"/><circle cx="536.45" cy="1719.89" r="6.4"/><circle cx="556.56" cy="1664.04" r="6.4"/><circle cx="576.67" cy="1775.75" r="6.4"/><circle cx="596.77" cy="1775.75" r="6.4"/><circle cx="616.88" cy="1552.32" r="6.4"/><circle cx="636.99" cy="1608.18" r="6.4"/><circle cx="657.1" cy="1552.32" r="6.4"/><circle cx="677.2" cy="1775.75" r="6.4"/><circle cx="697.31" cy="1608.18" r="6.4"/><circle cx="717.42" cy="1440.61" r="6.4"/><circle cx="737.52" cy="1719.89" r="6.4"/><circle cx="757.63" cy="1664.04" r="6.4"/><circle cx="777.74" cy="1496.47" r="6.4"/><circle cx="797.85" cy="1664.04" r="6.4"/><circle cx="817.95" cy="1496.47" r="6.4"/></g>
</g>
</g>
<path class="t" d="M134.31 1775.75v6.4M154.41 1775.75v6.4M174.52 1775.75v6.4M194.63 1775.75v6.4M214.74 1775.75v6.4M234.84 1775.75v6.4M254.95 1775.75v6.4M275.06 1775.75v6.4M295.16 1775.75v6.4M315.27 1775.75v6.4M335.38 1775.75v6.4M355.49 1775.75v6.4M375.59 1775.75v6.4M395.7 1775.75v6.4M415.81 1775.75v6.4M435.92 1775.75v6.4M456.02 1775.75v6.4M476.13 1775.75v6.4M496.24 1775.75v6.4M516.34 1775.75v6.4M536.45 1775.75v6.4M556.56 1775.75v6.4M576.67 1775.75v6.4M596.77 1775.75v6.4M616.88 1775.75v6.4M636.99 1775.75v6.4M657.1 1775.75v6.4M677.2 1775.75v6.4M697.31 1775.75v6.4M717.42 1775.75v6.4M737.52 1775.75v6.4M757.63 1775.75v6.4M777.74 1775.75v6.4M797.85 1775.75v6.4M817.95 1775.75v6.4M114.2 1775.75h-6.4M114.2 1719.89h-6.4M114.2 1664.04h-6.4M114.2 1608.18h-6.4M114.2 1552.32h-6.4M114.2 1496.47h-6.4M114.2 1440.61h-6.4M114.2 1384.75h-6.4M114.2 1328.9h-6.4M114.2 1273.04h-6.4"/>
<rect class="sp" x="114.2" y="1273.04" width="723.86" height="502.71"/>
<text class="tk yt" transform="translate(101.7 1785.25) scale(1 1.02)">0</text>
<text class="tk yt" transform="translate(101.7 1729.39) scale(1 1.02)">1</text>
<text class="tk yt" transform="translate(101.7 1673.54) scale(1 1.02)">2</text>
<text class="tk yt" transform="translate(101.7 1617.68) scale(1 1.02)">3</text>
<text class="tk yt" transform="translate(101.7 1561.82) scale(1 1.02)">4</text>
<text class="tk yt" transform="translate(101.7 1505.97) scale(1 1.02)">5</text>
<text class="tk yt" transform="translate(101.7 1450.11) scale(1 1.02)">6</text>
<text class="tk yt" transform="translate(101.7 1394.25) scale(1 1.02)">7</text>
<text class="tk yt" transform="translate(101.7 1338.4) scale(1 1.02)">8</text>
<text class="tk yt" transform="translate(101.7 1282.54) scale(1 1.02)">9</text>
<text class="tk xt" transform="translate(143.66 1790.25) rotate(-90) scale(1 1.02)">1986</text>
<text class="tk xt" transform="translate(183.87 1790.25) rotate(-90) scale(1 1.02)">1988</text>
<text class="tk xt" transform="translate(224.09 1790.25) rotate(-90) scale(1 1.02)">1990</text>
<text class="tk xt" transform="translate(264.3 1790.25) rotate(-90) scale(1 1.02)">1992</text>
<text class="tk xt" transform="translate(304.51 1790.25) rotate(-90) scale(1 1.02)">1994</text>
<text class="tk xt" transform="translate(344.73 1790.25) rotate(-90) scale(1 1.02)">1996</text>
<text class="tk xt" transform="translate(384.94 1790.25) rotate(-90) scale(1 1.02)">1998</text>
<text class="tk xt" transform="translate(425.16 1790.25) rotate(-90) scale(1 1.02)">2000</text>
<text class="tk xt" transform="translate(465.37 1790.25) rotate(-90) scale(1 1.02)">2002</text>
<text class="tk xt" transform="translate(505.59 1790.25) rotate(-90) scale(1 1.02)">2004</text>
<text class="tk xt" transform="translate(545.8 1790.25) rotate(-90) scale(1 1.02)">2006</text>
<text class="tk xt" transform="translate(586.02 1790.25) rotate(-90) scale(1 1.02)">2008</text>
<text class="tk xt" transform="translate(626.23 1790.25) rotate(-90) scale(1 1.02)">2010</text>
<text class="tk xt" transform="translate(666.45 1790.25) rotate(-90) scale(1 1.02)">2012</text>
<text class="tk xt" transform="translate(706.66 1790.25) rotate(-90) scale(1 1.02)">2014</text>
<text class="tk xt" transform="translate(746.87 1790.25) rotate(-90) scale(1 1.02)">2016</text>
<text class="tk xt" transform="translate(787.09 1790.25) rotate(-90) scale(1 1.02)">2018</text>
<text class="tk xt" transform="translate(827.3 1790.25) rotate(-90) scale(1 1.02)">2020</text>
<text class="yl" transform="translate(74.2 1524.39) rotate(-90) scale(1 0.985)">Frequency (events/year)</text>
<text class="ti" transform="translate(476.03 1264.14) scale(1 0.975)">Lower Bay</text>
<rect x="126.5" y="1286.24" width="123.8" height="82.6" rx="4.5" fill="#fff" fill-opacity="0.8" stroke="#d2d2d2" stroke-width="1.2"/>
<path class="l" stroke="#cc78bc" d="M137.3 1306.64h50.4"/>
<circle cx="162.5" cy="1306.64" r="6.4" fill="#cc78bc"/>
<text class="lg" transform="translate(208.8 1315.14) scale(1 1)">GI</text>
<path class="l" stroke="#ca9161" d="M137.3 1344.34h50.4"/>
<circle cx="162.5" cy="1344.34" r="6.4" fill="#ca9161"/>
<text class="lg" transform="translate(208.8 1352.84) scale(1 1)">KP</text>
<text class="pl" transform="translate(15.9 1262.6) scale(1 1.03)">E</text>
</g>
<g id="panel-F">
<path class="g" d="M1024.85 1775.75V1273.04M1044.96 1775.75V1273.04M1065.08 1775.75V1273.04M1085.19 1775.75V1273.04M1105.3 1775.75V1273.04M1125.41 1775.75V1273.04M1145.53 1775.75V1273.04M1165.64 1775.75V1273.04M1185.75 1775.75V1273.04M1205.86 1775.75V1273.04M1225.97 1775.75V1273.04M1246.09 1775.75V1273.04M1266.2 1775.75V1273.04M1286.31 1775.75V1273.04M1306.42 1775.75V1273.04M1326.54 1775.75V1273.04M1346.65 1775.75V1273.04M1366.76 1775.75V1273.04M1386.87 1775.75V1273.04M1406.98 1775.75V1273.04M1427.1 1775.75V1273.04M1447.21 1775.75V1273.04M1467.32 1775.75V1273.04M1487.43 1775.75V1273.04M1507.55 1775.75V1273.04M1527.66 1775.75V1273.04M1547.77 1775.75V1273.04M1567.88 1775.75V1273.04M1587.99 1775.75V1273.04M1608.11 1775.75V1273.04M1628.22 1775.75V1273.04M1648.33 1775.75V1273.04M1668.44 1775.75V1273.04M1688.56 1775.75V1273.04M1708.67 1775.75V1273.04M1004.74 1691.96H1728.78M1004.74 1608.18H1728.78M1004.74 1524.39H1728.78M1004.74 1440.61H1728.78M1004.74 1356.83H1728.78"/>
<g clip-path="url(#c21)">
<g stroke="#cc78bc" fill="#cc78bc">
<path class="l" d="M1266.2 1630.52L1286.31 1574.67L1306.42 1658.45L1326.54 1356.83L1346.65 1633.32L1366.76 1691.96L1386.87 1624.94L1406.98 1668.51L1427.1 1602.6L1447.21 1624.94L1467.32 1624.94M1507.55 1650.07L1527.66 1599.8L1547.77 1516.02M1608.11 1529.98L1628.22 1629.13L1648.33 1658.45L1668.44 1603.99L1688.56 1629.13L1708.67 1611.53"/>
<g stroke="none"><circle cx="1024.85" cy="1591.42" r="6.4"/><circle cx="1105.3" cy="1516.02" r="6.4"/><circle cx="1165.64" cy="1691.96" r="6.4"/><circle cx="1266.2" cy="1630.52" r="6.4"/><circle cx="1286.31" cy="1574.67" r="6.4"/><circle cx="1306.42" cy="1658.45" r="6.4"/><circle cx="1326.54" cy="1356.83" r="6.4"/><circle cx="1346.65" cy="1633.32" r="6.4"/><circle cx="1366.76" cy="1691.96" r="6.4"/><circle cx="1386.87" cy="1624.94" r="6.4"/><circle cx="1406.98" cy="1668.51" r="6.4"/><circle cx="1427.1" cy="1602.6" r="6.4"/><circle cx="1447.21" cy="1624.94" r="6.4"/><circle cx="1467.32" cy="1624.94" r="6.4"/><circle cx="1507.55" cy="1650.07" r="6.4"/><circle cx="1527.66" cy="1599.8" r="6.4"/><circle cx="1547.77" cy="1516.02" r="6.4"/><circle cx="1608.11" cy="1529.98" r="6.4"/><circle cx="1628.22" cy="1629.13" r="6.4"/><circle cx="1648.33" cy="1658.45" r="6.4"/><circle cx="1668.44" cy="1603.99" r="6.4"/><circle cx="1688.56" cy="1629.13" r="6.4"/><circle cx="1708.67" cy="1611.53" r="6.4"/></g>
</g>
<g stroke="#ca9161" fill="#ca9161">
<path class="l" d="M1326.54 1390.34L1346.65 1666.83M1406.98 1608.18L1427.1 1423.85L1447.21 1624.94M1507.55 1658.45L1527.66 1686.38L1547.77 1520.21M1587.99 1664.03L1608.11 1384.76L1628.22 1557.91L1648.33 1658.45L1668.44 1537.8L1688.56 1650.07L1708.67 1651.75"/>
<g stroke="none"><circle cx="1205.86" cy="1574.67" r="6.4"/><circle cx="1266.2" cy="1574.67" r="6.4"/><circle cx="1326.54" cy="1390.34" r="6.4"/><circle cx="1346.65" cy="1666.83" r="6.4"/><circle cx="1406.98" cy="1608.18" r="6.4"/><circle cx="1427.1" cy="1423.85" r="6.4"/><circle cx="1447.21" cy="1624.94" r="6.4"/><circle cx="1507.55" cy="1658.45" r="6.4"/><circle cx="1527.66" cy="1686.38" r="6.4"/><circle cx="1547.77" cy="1520.21" r="6.4"/><circle cx="1587.99" cy="1664.03" r="6.4"/><circle cx="1608.11" cy="1384.76" r="6.4"/><circle cx="1628.22" cy="1557.91" r="6.4"/><circle cx="1648.33" cy="1658.45" r="6.4"/><circle cx="1668.44" cy="1537.8" r="6.4"/><circle cx="1688.56" cy="1650.07" r="6.4"/><circle cx="1708.67" cy="1651.75" r="6.4"/></g>
</g>
</g>
<path class="t" d="M1024.85 1775.75v6.4M1044.96 1775.75v6.4M1065.08 1775.75v6.4M1085.19 1775.75v6.4M1105.3 1775.75v6.4M1125.41 1775.75v6.4M1145.53 1775.75v6.4M1165.64 1775.75v6.4M1185.75 1775.75v6.4M1205.86 1775.75v6.4M1225.97 1775.75v6.4M1246.09 1775.75v6.4M1266.2 1775.75v6.4M1286.31 1775.75v6.4M1306.42 1775.75v6.4M1326.54 1775.75v6.4M1346.65 1775.75v6.4M1366.76 1775.75v6.4M1386.87 1775.75v6.4M1406.98 1775.75v6.4M1427.1 1775.75v6.4M1447.21 1775.75v6.4M1467.32 1775.75v6.4M1487.43 1775.75v6.4M1507.55 1775.75v6.4M1527.66 1775.75v6.4M1547.77 1775.75v6.4M1567.88 1775.75v6.4M1587.99 1775.75v6.4M1608.11 1775.75v6.4M1628.22 1775.75v6.4M1648.33 1775.75v6.4M1668.44 1775.75v6.4M1688.56 1775.75v6.4M1708.67 1775.75v6.4M1004.74 1775.75h-6.4M1004.74 1691.96h-6.4M1004.74 1608.18h-6.4M1004.74 1524.39h-6.4M1004.74 1440.61h-6.4M1004.74 1356.83h-6.4M1004.74 1273.04h-6.4"/>
<rect class="sp" x="1004.74" y="1273.04" width="724.04" height="502.71"/>
<text class="tk yt" transform="translate(992.24 1785.25) scale(1 1.02)">0</text>
<text class="tk yt" transform="translate(992.24 1701.46) scale(1 1.02)">5</text>
<text class="tk yt" transform="translate(992.24 1617.68) scale(1 1.02)">10</text>
<text class="tk yt" transform="translate(992.24 1533.89) scale(1 1.02)">15</text>
<text class="tk yt" transform="translate(992.24 1450.11) scale(1 1.02)">20</text>
<text class="tk yt" transform="translate(992.24 1366.33) scale(1 1.02)">25</text>
<text class="tk yt" transform="translate(992.24 1282.54) scale(1 1.02)">30</text>
<text class="tk xt" transform="translate(1034.2 1790.25) rotate(-90) scale(1 1.02)">1986</text>
<text class="tk xt" transform="translate(1074.43 1790.25) rotate(-90) scale(1 1.02)">1988</text>
<text class="tk xt" transform="translate(1114.65 1790.25) rotate(-90) scale(1 1.02)">1990</text>
<text class="tk xt" transform="translate(1154.88 1790.25) rotate(-90) scale(1 1.02)">1992</text>
<text class="tk xt" transform="translate(1195.1 1790.25) rotate(-90) scale(1 1.02)">1994</text>
<text class="tk xt" transform="translate(1235.32 1790.25) rotate(-90) scale(1 1.02)">1996</text>
<text class="tk xt" transform="translate(1275.55 1790.25) rotate(-90) scale(1 1.02)">1998</text>
<text class="tk xt" transform="translate(1315.77 1790.25) rotate(-90) scale(1 1.02)">2000</text>
<text class="tk xt" transform="translate(1356 1790.25) rotate(-90) scale(1 1.02)">2002</text>
<text class="tk xt" transform="translate(1396.22 1790.25) rotate(-90) scale(1 1.02)">2004</text>
<text class="tk xt" transform="translate(1436.45 1790.25) rotate(-90) scale(1 1.02)">2006</text>
<text class="tk xt" transform="translate(1476.67 1790.25) rotate(-90) scale(1 1.02)">2008</text>
<text class="tk xt" transform="translate(1516.9 1790.25) rotate(-90) scale(1 1.02)">2010</text>
<text class="tk xt" transform="translate(1557.12 1790.25) rotate(-90) scale(1 1.02)">2012</text>
<text class="tk xt" transform="translate(1597.34 1790.25) rotate(-90) scale(1 1.02)">2014</text>
<text class="tk xt" transform="translate(1637.57 1790.25) rotate(-90) scale(1 1.02)">2016</text>
<text class="tk xt" transform="translate(1677.79 1790.25) rotate(-90) scale(1 1.02)">2018</text>
<text class="tk xt" transform="translate(1718.02 1790.25) rotate(-90) scale(1 1.02)">2020</text>
<text class="yl" transform="translate(948.24 1520.39) rotate(-90) scale(1 0.985)">Duration (Days)</text>
<text class="ti" transform="translate(1366.66 1264.14) scale(1 0.975)">Lower Bay</text>
<rect x="1017.04" y="1286.24" width="123.8" height="82.6" rx="4.5" fill="#fff" fill-opacity="0.8" stroke="#d2d2d2" stroke-width="1.2"/>
<path class="l" stroke="#cc78bc" d="M1027.84 1306.64h50.4"/>
<circle cx="1053.04" cy="1306.64" r="6.4" fill="#cc78bc"/>
<text class="lg" transform="translate(1099.34 1315.14) scale(1 1)">GI</text>
<path class="l" stroke="#ca9161" d="M1027.84 1344.34h50.4"/>
<circle cx="1053.04" cy="1344.34" r="6.4" fill="#ca9161"/>
<text class="lg" transform="translate(1099.34 1352.84) scale(1 1)">KP</text>
<text class="pl" transform="translate(914 1262.8) scale(1 1.03)">F</text>
</g>
<g id="panel-G">
<path class="g" d="M134.31 2394.45V1891.8M154.41 2394.45V1891.8M174.52 2394.45V1891.8M194.63 2394.45V1891.8M214.74 2394.45V1891.8M234.84 2394.45V1891.8M254.95 2394.45V1891.8M275.06 2394.45V1891.8M295.16 2394.45V1891.8M315.27 2394.45V1891.8M335.38 2394.45V1891.8M355.49 2394.45V1891.8M375.59 2394.45V1891.8M395.7 2394.45V1891.8M415.81 2394.45V1891.8M435.92 2394.45V1891.8M456.02 2394.45V1891.8M476.13 2394.45V1891.8M496.24 2394.45V1891.8M516.34 2394.45V1891.8M536.45 2394.45V1891.8M556.56 2394.45V1891.8M576.67 2394.45V1891.8M596.77 2394.45V1891.8M616.88 2394.45V1891.8M636.99 2394.45V1891.8M657.1 2394.45V1891.8M677.2 2394.45V1891.8M697.31 2394.45V1891.8M717.42 2394.45V1891.8M737.52 2394.45V1891.8M757.63 2394.45V1891.8M777.74 2394.45V1891.8M797.85 2394.45V1891.8M817.95 2394.45V1891.8M114.2 2338.6H838.06M114.2 2282.75H838.06M114.2 2226.9H838.06M114.2 2171.05H838.06M114.2 2115.2H838.06M114.2 2059.35H838.06M114.2 2003.5H838.06M114.2 1947.65H838.06"/>
<g clip-path="url(#c30)">
<g stroke="#1a1a1a" fill="#1a1a1a">
<path class="l" d="M134.31 2338.6L154.41 2394.45L174.52 2394.45L194.63 2338.6L214.74 2282.75L234.84 2171.05L254.95 2394.45L275.06 2338.6L295.16 2394.45L315.27 2338.6L335.38 2394.45L355.49 2394.45L375.59 2338.6L395.7 2394.45L415.81 2394.45L435.92 2226.9L456.02 2115.2L476.13 2394.45L496.24 2338.6L516.34 2171.05L536.45 2282.75L556.56 2226.9L576.67 2338.6L596.77 2338.6L616.88 2282.75L636.99 2282.75L657.1 2059.35L677.2 2394.45L697.31 2394.45L717.42 2115.2L737.52 2282.75L757.63 2282.75L777.74 2171.05L797.85 2171.05L817.95 2059.35"/>
<g stroke="none"><circle cx="134.31" cy="2338.6" r="6.4"/><circle cx="154.41" cy="2394.45" r="6.4"/><circle cx="174.52" cy="2394.45" r="6.4"/><circle cx="194.63" cy="2338.6" r="6.4"/><circle cx="214.74" cy="2282.75" r="6.4"/><circle cx="234.84" cy="2171.05" r="6.4"/><circle cx="254.95" cy="2394.45" r="6.4"/><circle cx="275.06" cy="2338.6" r="6.4"/><circle cx="295.16" cy="2394.45" r="6.4"/><circle cx="315.27" cy="2338.6" r="6.4"/><circle cx="335.38" cy="2394.45" r="6.4"/><circle cx="355.49" cy="2394.45" r="6.4"/><circle cx="375.59" cy="2338.6" r="6.4"/><circle cx="395.7" cy="2394.45" r="6.4"/><circle cx="415.81" cy="2394.45" r="6.4"/><circle cx="435.92" cy="2226.9" r="6.4"/><circle cx="456.02" cy="2115.2" r="6.4"/><circle cx="476.13" cy="2394.45" r="6.4"/><circle cx="496.24" cy="2338.6" r="6.4"/><circle cx="516.34" cy="2171.05" r="6.4"/><circle cx="536.45" cy="2282.75" r="6.4"/><circle cx="556.56" cy="2226.9" r="6.4"/><circle cx="576.67" cy="2338.6" r="6.4"/><circle cx="596.77" cy="2338.6" r="6.4"/><circle cx="616.88" cy="2282.75" r="6.4"/><circle cx="636.99" cy="2282.75" r="6.4"/><circle cx="657.1" cy="2059.35" r="6.4"/><circle cx="677.2" cy="2394.45" r="6.4"/><circle cx="697.31" cy="2394.45" r="6.4"/><circle cx="717.42" cy="2115.2" r="6.4"/><circle cx="737.52" cy="2282.75" r="6.4"/><circle cx="757.63" cy="2282.75" r="6.4"/><circle cx="777.74" cy="2171.05" r="6.4"/><circle cx="797.85" cy="2171.05" r="6.4"/><circle cx="817.95" cy="2059.35" r="6.4"/></g>
</g>
<g stroke="#a9a9a9" fill="#a9a9a9">
<path class="l" d="M134.31 2282.75L154.41 2394.45L174.52 2338.6L194.63 2394.45L214.74 2282.75L234.84 2115.2L254.95 2394.45M295.16 2338.6L315.27 2338.6L335.38 2394.45L355.49 2394.45L375.59 2338.6L395.7 2226.9L415.81 2394.45L435.92 2338.6L456.02 2115.2L476.13 2338.6L496.24 2282.75L516.34 2226.9L536.45 2338.6L556.56 2282.75L576.67 2282.75L596.77 2394.45L616.88 2226.9L636.99 2226.9L657.1 1947.65L677.2 2394.45L697.31 2226.9L717.42 2003.5L737.52 2115.2L757.63 2171.05L777.74 2115.2L797.85 2226.9L817.95 2171.05"/>
<g stroke="none"><circle cx="134.31" cy="2282.75" r="6.4"/><circle cx="154.41" cy="2394.45" r="6.4"/><circle cx="174.52" cy="2338.6" r="6.4"/><circle cx="194.63" cy="2394.45" r="6.4"/><circle cx="214.74" cy="2282.75" r="6.4"/><circle cx="234.84" cy="2115.2" r="6.4"/><circle cx="254.95" cy="2394.45" r="6.4"/><circle cx="295.16" cy="2338.6" r="6.4"/><circle cx="315.27" cy="2338.6" r="6.4"/><circle cx="335.38" cy="2394.45" r="6.4"/><circle cx="355.49" cy="2394.45" r="6.4"/><circle cx="375.59" cy="2338.6" r="6.4"/><circle cx="395.7" cy="2226.9" r="6.4"/><circle cx="415.81" cy="2394.45" r="6.4"/><circle cx="435.92" cy="2338.6" r="6.4"/><circle cx="456.02" cy="2115.2" r="6.4"/><circle cx="476.13" cy="2338.6" r="6.4"/><circle cx="496.24" cy="2282.75" r="6.4"/><circle cx="516.34" cy="2226.9" r="6.4"/><circle cx="536.45" cy="2338.6" r="6.4"/><circle cx="556.56" cy="2282.75" r="6.4"/><circle cx="576.67" cy="2282.75" r="6.4"/><circle cx="596.77" cy="2394.45" r="6.4"/><circle cx="616.88" cy="2226.9" r="6.4"/><circle cx="636.99" cy="2226.9" r="6.4"/><circle cx="657.1" cy="1947.65" r="6.4"/><circle cx="677.2" cy="2394.45" r="6.4"/><circle cx="697.31" cy="2226.9" r="6.4"/><circle cx="717.42" cy="2003.5" r="6.4"/><circle cx="737.52" cy="2115.2" r="6.4"/><circle cx="757.63" cy="2171.05" r="6.4"/><circle cx="777.74" cy="2115.2" r="6.4"/><circle cx="797.85" cy="2226.9" r="6.4"/><circle cx="817.95" cy="2171.05" r="6.4"/></g>
</g>
</g>
<path class="t" d="M134.31 2394.45v6.4M154.41 2394.45v6.4M174.52 2394.45v6.4M194.63 2394.45v6.4M214.74 2394.45v6.4M234.84 2394.45v6.4M254.95 2394.45v6.4M275.06 2394.45v6.4M295.16 2394.45v6.4M315.27 2394.45v6.4M335.38 2394.45v6.4M355.49 2394.45v6.4M375.59 2394.45v6.4M395.7 2394.45v6.4M415.81 2394.45v6.4M435.92 2394.45v6.4M456.02 2394.45v6.4M476.13 2394.45v6.4M496.24 2394.45v6.4M516.34 2394.45v6.4M536.45 2394.45v6.4M556.56 2394.45v6.4M576.67 2394.45v6.4M596.77 2394.45v6.4M616.88 2394.45v6.4M636.99 2394.45v6.4M657.1 2394.45v6.4M677.2 2394.45v6.4M697.31 2394.45v6.4M717.42 2394.45v6.4M737.52 2394.45v6.4M757.63 2394.45v6.4M777.74 2394.45v6.4M797.85 2394.45v6.4M817.95 2394.45v6.4M114.2 2394.45h-6.4M114.2 2338.6h-6.4M114.2 2282.75h-6.4M114.2 2226.9h-6.4M114.2 2171.05h-6.4M114.2 2115.2h-6.4M114.2 2059.35h-6.4M114.2 2003.5h-6.4M114.2 1947.65h-6.4M114.2 1891.8h-6.4"/>
<rect class="sp" x="114.2" y="1891.8" width="723.86" height="502.65"/>
<text class="tk yt" transform="translate(101.7 2403.95) scale(1 1.02)">0</text>
<text class="tk yt" transform="translate(101.7 2348.1) scale(1 1.02)">1</text>
<text class="tk yt" transform="translate(101.7 2292.25) scale(1 1.02)">2</text>
<text class="tk yt" transform="translate(101.7 2236.4) scale(1 1.02)">3</text>
<text class="tk yt" transform="translate(101.7 2180.55) scale(1 1.02)">4</text>
<text class="tk yt" transform="translate(101.7 2124.7) scale(1 1.02)">5</text>
<text class="tk yt" transform="translate(101.7 2068.85) scale(1 1.02)">6</text>
<text class="tk yt" transform="translate(101.7 2013) scale(1 1.02)">7</text>
<text class="tk yt" transform="translate(101.7 1957.15) scale(1 1.02)">8</text>
<text class="tk yt" transform="translate(101.7 1901.3) scale(1 1.02)">9</text>
<text class="tk xt" transform="translate(143.66 2408.95) rotate(-90) scale(1 1.02)">1986</text>
<text class="tk xt" transform="translate(183.87 2408.95) rotate(-90) scale(1 1.02)">1988</text>
<text class="tk xt" transform="translate(224.09 2408.95) rotate(-90) scale(1 1.02)">1990</text>
<text class="tk xt" transform="translate(264.3 2408.95) rotate(-90) scale(1 1.02)">1992</text>
<text class="tk xt" transform="translate(304.51 2408.95) rotate(-90) scale(1 1.02)">1994</text>
<text class="tk xt" transform="translate(344.73 2408.95) rotate(-90) scale(1 1.02)">1996</text>
<text class="tk xt" transform="translate(384.94 2408.95) rotate(-90) scale(1 1.02)">1998</text>
<text class="tk xt" transform="translate(425.16 2408.95) rotate(-90) scale(1 1.02)">2000</text>
<text class="tk xt" transform="translate(465.37 2408.95) rotate(-90) scale(1 1.02)">2002</text>
<text class="tk xt" transform="translate(505.59 2408.95) rotate(-90) scale(1 1.02)">2004</text>
<text class="tk xt" transform="translate(545.8 2408.95) rotate(-90) scale(1 1.02)">2006</text>
<text class="tk xt" transform="translate(586.02 2408.95) rotate(-90) scale(1 1.02)">2008</text>
<text class="tk xt" transform="translate(626.23 2408.95) rotate(-90) scale(1 1.02)">2010</text>
<text class="tk xt" transform="translate(666.45 2408.95) rotate(-90) scale(1 1.02)">2012</text>
<text class="tk xt" transform="translate(706.66 2408.95) rotate(-90) scale(1 1.02)">2014</text>
<text class="tk xt" transform="translate(746.87 2408.95) rotate(-90) scale(1 1.02)">2016</text>
<text class="tk xt" transform="translate(787.09 2408.95) rotate(-90) scale(1 1.02)">2018</text>
<text class="tk xt" transform="translate(827.3 2408.95) rotate(-90) scale(1 1.02)">2020</text>
<text class="yl" transform="translate(74.2 2143.12) rotate(-90) scale(1 0.985)">Frequency (events/year)</text>
<text class="ti" transform="translate(476.03 1882.9) scale(1 0.975)">Plume / Ocean</text>
<rect x="126.5" y="1905" width="145.4" height="82.6" rx="4.5" fill="#fff" fill-opacity="0.8" stroke="#d2d2d2" stroke-width="1.2"/>
<path class="l" stroke="#1a1a1a" d="M137.3 1925.4h50.4"/>
<circle cx="162.5" cy="1925.4" r="6.4" fill="#1a1a1a"/>
<text class="lg" transform="translate(208.8 1933.9) scale(1 1)">DEB</text>
<path class="l" stroke="#a9a9a9" d="M137.3 1963.1h50.4"/>
<circle cx="162.5" cy="1963.1" r="6.4" fill="#a9a9a9"/>
<text class="lg" transform="translate(208.8 1971.6) scale(1 1)">CHL</text>
<text class="pl" transform="translate(15.9 1886.7) scale(1 1.03)">G</text>
</g>
<g id="panel-H">
<path class="g" d="M1024.85 2394.45V1891.8M1044.96 2394.45V1891.8M1065.08 2394.45V1891.8M1085.19 2394.45V1891.8M1105.3 2394.45V1891.8M1125.41 2394.45V1891.8M1145.53 2394.45V1891.8M1165.64 2394.45V1891.8M1185.75 2394.45V1891.8M1205.86 2394.45V1891.8M1225.97 2394.45V1891.8M1246.09 2394.45V1891.8M1266.2 2394.45V1891.8M1286.31 2394.45V1891.8M1306.42 2394.45V1891.8M1326.54 2394.45V1891.8M1346.65 2394.45V1891.8M1366.76 2394.45V1891.8M1386.87 2394.45V1891.8M1406.98 2394.45V1891.8M1427.1 2394.45V1891.8M1447.21 2394.45V1891.8M1467.32 2394.45V1891.8M1487.43 2394.45V1891.8M1507.55 2394.45V1891.8M1527.66 2394.45V1891.8M1547.77 2394.45V1891.8M1567.88 2394.45V1891.8M1587.99 2394.45V1891.8M1608.11 2394.45V1891.8M1628.22 2394.45V1891.8M1648.33 2394.45V1891.8M1668.44 2394.45V1891.8M1688.56 2394.45V1891.8M1708.67 2394.45V1891.8M1004.74 2310.67H1728.78M1004.74 2226.9H1728.78M1004.74 2143.12H1728.78M1004.74 2059.35H1728.78M1004.74 1975.57H1728.78"/>
<g clip-path="url(#c31)">
<g stroke="#1a1a1a" fill="#1a1a1a">
<path class="l" d="M1085.19 2277.16L1105.3 2277.16L1125.41 2256.22M1326.54 2171.06L1346.65 2146.48M1386.87 2293.92L1406.98 2222.71L1427.1 2076.11L1447.21 2215.72L1467.32 2310.67L1487.43 2126.37L1507.55 2310.67L1527.66 2159.88L1547.77 2064.93M1608.11 2116.32L1628.22 2176.63L1648.33 2159.88L1668.44 2180.82L1688.56 2260.41L1708.67 1922.51"/>
<g stroke="none"><circle cx="1024.85" cy="2277.16" r="6.4"/><circle cx="1085.19" cy="2277.16" r="6.4"/><circle cx="1105.3" cy="2277.16" r="6.4"/><circle cx="1125.41" cy="2256.22" r="6.4"/><circle cx="1165.64" cy="2277.16" r="6.4"/><circle cx="1205.86" cy="2310.67" r="6.4"/><circle cx="1266.2" cy="2277.16" r="6.4"/><circle cx="1326.54" cy="2171.06" r="6.4"/><circle cx="1346.65" cy="2146.48" r="6.4"/><circle cx="1386.87" cy="2293.92" r="6.4"/><circle cx="1406.98" cy="2222.71" r="6.4"/><circle cx="1427.1" cy="2076.11" r="6.4"/><circle cx="1447.21" cy="2215.72" r="6.4"/><circle cx="1467.32" cy="2310.67" r="6.4"/><circle cx="1487.43" cy="2126.37" r="6.4"/><circle cx="1507.55" cy="2310.67" r="6.4"/><circle cx="1527.66" cy="2159.88" r="6.4"/><circle cx="1547.77" cy="2064.93" r="6.4"/><circle cx="1608.11" cy="2116.32" r="6.4"/><circle cx="1628.22" cy="2176.63" r="6.4"/><circle cx="1648.33" cy="2159.88" r="6.4"/><circle cx="1668.44" cy="2180.82" r="6.4"/><circle cx="1688.56" cy="2260.41" r="6.4"/><circle cx="1708.67" cy="1922.51" r="6.4"/></g>
</g>
<g stroke="#a9a9a9" fill="#a9a9a9">
<path class="l" d="M1105.3 2235.28L1125.41 2300.62M1185.75 2293.92L1205.86 2210.14M1266.2 2159.88L1286.31 2215.72M1326.54 1891.8L1346.65 2226.9L1366.76 2310.67L1386.87 2218.52L1406.98 2198.97L1427.1 2226.9L1447.21 1908.55L1467.32 2268.79M1507.55 2243.65L1527.66 2293.92L1547.77 2243.65M1587.99 2288.34L1608.11 2123.97L1628.22 2280.52L1648.33 2210.14L1668.44 2099.56L1688.56 2293.92L1708.67 2281.35"/>
<g stroke="none"><circle cx="1024.85" cy="2310.67" r="6.4"/><circle cx="1065.08" cy="2260.41" r="6.4"/><circle cx="1105.3" cy="2235.28" r="6.4"/><circle cx="1125.41" cy="2300.62" r="6.4"/><circle cx="1185.75" cy="2293.92" r="6.4"/><circle cx="1205.86" cy="2210.14" r="6.4"/><circle cx="1266.2" cy="2159.88" r="6.4"/><circle cx="1286.31" cy="2215.72" r="6.4"/><circle cx="1326.54" cy="1891.8" r="6.4"/><circle cx="1346.65" cy="2226.9" r="6.4"/><circle cx="1366.76" cy="2310.67" r="6.4"/><circle cx="1386.87" cy="2218.52" r="6.4"/><circle cx="1406.98" cy="2198.97" r="6.4"/><circle cx="1427.1" cy="2226.9" r="6.4"/><circle cx="1447.21" cy="1908.55" r="6.4"/><circle cx="1467.32" cy="2268.79" r="6.4"/><circle cx="1507.55" cy="2243.65" r="6.4"/><circle cx="1527.66" cy="2293.92" r="6.4"/><circle cx="1547.77" cy="2243.65" r="6.4"/><circle cx="1587.99" cy="2288.34" r="6.4"/><circle cx="1608.11" cy="2123.97" r="6.4"/><circle cx="1628.22" cy="2280.52" r="6.4"/><circle cx="1648.33" cy="2210.14" r="6.4"/><circle cx="1668.44" cy="2099.56" r="6.4"/><circle cx="1688.56" cy="2293.92" r="6.4"/><circle cx="1708.67" cy="2281.35" r="6.4"/></g>
</g>
</g>
<path class="t" d="M1024.85 2394.45v6.4M1044.96 2394.45v6.4M1065.08 2394.45v6.4M1085.19 2394.45v6.4M1105.3 2394.45v6.4M1125.41 2394.45v6.4M1145.53 2394.45v6.4M1165.64 2394.45v6.4M1185.75 2394.45v6.4M1205.86 2394.45v6.4M1225.97 2394.45v6.4M1246.09 2394.45v6.4M1266.2 2394.45v6.4M1286.31 2394.45v6.4M1306.42 2394.45v6.4M1326.54 2394.45v6.4M1346.65 2394.45v6.4M1366.76 2394.45v6.4M1386.87 2394.45v6.4M1406.98 2394.45v6.4M1427.1 2394.45v6.4M1447.21 2394.45v6.4M1467.32 2394.45v6.4M1487.43 2394.45v6.4M1507.55 2394.45v6.4M1527.66 2394.45v6.4M1547.77 2394.45v6.4M1567.88 2394.45v6.4M1587.99 2394.45v6.4M1608.11 2394.45v6.4M1628.22 2394.45v6.4M1648.33 2394.45v6.4M1668.44 2394.45v6.4M1688.56 2394.45v6.4M1708.67 2394.45v6.4M1004.74 2394.45h-6.4M1004.74 2310.67h-6.4M1004.74 2226.9h-6.4M1004.74 2143.12h-6.4M1004.74 2059.35h-6.4M1004.74 1975.57h-6.4M1004.74 1891.8h-6.4"/>
<rect class="sp" x="1004.74" y="1891.8" width="724.04" height="502.65"/>
<text class="tk yt" transform="translate(992.24 2403.95) scale(1 1.02)">0</text>
<text class="tk yt" transform="translate(992.24 2320.17) scale(1 1.02)">5</text>
<text class="tk yt" transform="translate(992.24 2236.4) scale(1 1.02)">10</text>
<text class="tk yt" transform="translate(992.24 2152.62) scale(1 1.02)">15</text>
<text class="tk yt" transform="translate(992.24 2068.85) scale(1 1.02)">20</text>
<text class="tk yt" transform="translate(992.24 1985.07) scale(1 1.02)">25</text>
<text class="tk yt" transform="translate(992.24 1901.3) scale(1 1.02)">30</text>
<text class="tk xt" transform="translate(1034.2 2408.95) rotate(-90) scale(1 1.02)">1986</text>
<text class="tk xt" transform="translate(1074.43 2408.95) rotate(-90) scale(1 1.02)">1988</text>
<text class="tk xt" transform="translate(1114.65 2408.95) rotate(-90) scale(1 1.02)">1990</text>
<text class="tk xt" transform="translate(1154.88 2408.95) rotate(-90) scale(1 1.02)">1992</text>
<text class="tk xt" transform="translate(1195.1 2408.95) rotate(-90) scale(1 1.02)">1994</text>
<text class="tk xt" transform="translate(1235.32 2408.95) rotate(-90) scale(1 1.02)">1996</text>
<text class="tk xt" transform="translate(1275.55 2408.95) rotate(-90) scale(1 1.02)">1998</text>
<text class="tk xt" transform="translate(1315.77 2408.95) rotate(-90) scale(1 1.02)">2000</text>
<text class="tk xt" transform="translate(1356 2408.95) rotate(-90) scale(1 1.02)">2002</text>
<text class="tk xt" transform="translate(1396.22 2408.95) rotate(-90) scale(1 1.02)">2004</text>
<text class="tk xt" transform="translate(1436.45 2408.95) rotate(-90) scale(1 1.02)">2006</text>
<text class="tk xt" transform="translate(1476.67 2408.95) rotate(-90) scale(1 1.02)">2008</text>
<text class="tk xt" transform="translate(1516.9 2408.95) rotate(-90) scale(1 1.02)">2010</text>
<text class="tk xt" transform="translate(1557.12 2408.95) rotate(-90) scale(1 1.02)">2012</text>
<text class="tk xt" transform="translate(1597.34 2408.95) rotate(-90) scale(1 1.02)">2014</text>
<text class="tk xt" transform="translate(1637.57 2408.95) rotate(-90) scale(1 1.02)">2016</text>
<text class="tk xt" transform="translate(1677.79 2408.95) rotate(-90) scale(1 1.02)">2018</text>
<text class="tk xt" transform="translate(1718.02 2408.95) rotate(-90) scale(1 1.02)">2020</text>
<text class="yl" transform="translate(948.24 2139.12) rotate(-90) scale(1 0.985)">Duration (Days)</text>
<text class="ti" transform="translate(1361.06 1882.9) scale(1 0.975)">Plume / Ocean</text>
<rect x="1017.04" y="1905" width="145.4" height="82.6" rx="4.5" fill="#fff" fill-opacity="0.8" stroke="#d2d2d2" stroke-width="1.2"/>
<path class="l" stroke="#1a1a1a" d="M1027.84 1925.4h50.4"/>
<circle cx="1053.04" cy="1925.4" r="6.4" fill="#1a1a1a"/>
<text class="lg" transform="translate(1099.34 1933.9) scale(1 1)">DEB</text>
<path class="l" stroke="#a9a9a9" d="M1027.84 1963.1h50.4"/>
<circle cx="1053.04" cy="1963.1" r="6.4" fill="#a9a9a9"/>
<text class="lg" transform="translate(1099.34 1971.6) scale(1 1)">CHL</text>
<text class="pl" transform="translate(914 1886.6) scale(1 1.03)">H</text>
</g>
</svg></body></html>
